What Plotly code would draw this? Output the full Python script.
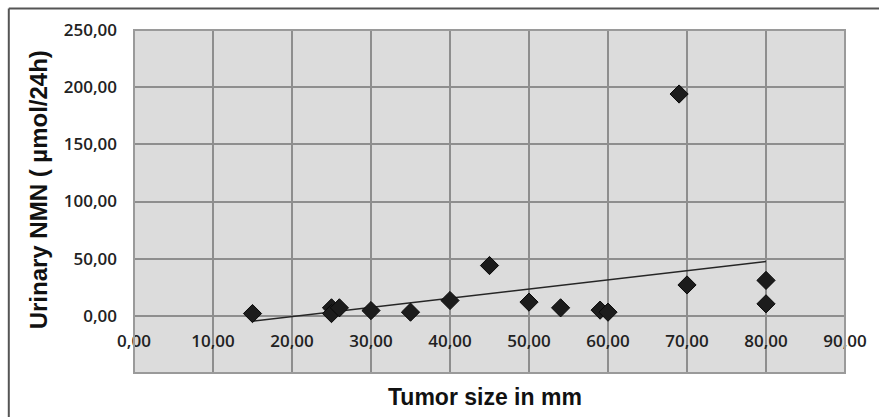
import plotly.graph_objects as go

# Data
tumor_size_mm = [15, 25, 25, 26, 30, 35, 40, 45, 50, 54, 59, 60, 69, 70, 80, 80]
urinary_nmn = [2.0, 7.0, 2.0, 7.0, 4.6, 3.2, 13.4, 44.0, 12.0, 7.0, 5.0, 3.2, 194.0, 27.0, 31.0, 10.5]
trend_x = [15, 80]
trend_y = [-4.7, 47.5]
x_ticks = [0, 10, 20, 30, 40, 50, 60, 70, 80, 90]
y_ticks = [0, 50, 100, 150, 200, 250]

# layout geometry (pixels)
W, H = 879, 417
L, R, T, B = 134, 846.7, 30, 372.7
pw, ph = R - L, B - T

def px_x(p):
    return (p - L) / pw

def px_y(p):
    return (B - p) / ph

grid = "#8e8e8e"
tick_font = dict(family="Open Sans", size=17, color="#222222", weight=600)

fig = go.Figure()
fig.add_trace(go.Scatter(
    x=trend_x, y=trend_y, mode="lines",
    line=dict(color="#262626", width=1.6), hoverinfo="skip", showlegend=False))
fig.add_trace(go.Scatter(
    x=tumor_size_mm, y=urinary_nmn, mode="markers",
    marker=dict(symbol="diamond", size=14, color="#1c1c1c",
                line=dict(color="#0a0a0a", width=1)),
    showlegend=False))

fig.update_layout(
    width=W, height=H,
    margin=dict(l=L, r=W - R, t=T, b=H - B, pad=0),
    paper_bgcolor="white",
    plot_bgcolor="#dcdcdc",
    separators=", ",
    showlegend=False,
    xaxis=dict(
        range=[0, 90], tickvals=x_ticks, tickformat=".2f",
        showgrid=True, gridcolor=grid, gridwidth=1.5,
        zeroline=False, showline=False, ticks="",
        anchor="free", position=1/6,
        tickfont=tick_font, ticklabelstandoff=13,
        fixedrange=True,
    ),
    yaxis=dict(
        range=[-50, 250], tickvals=y_ticks, tickformat=".2f",
        showgrid=True, gridcolor=grid, gridwidth=1.5,
        zeroline=False, showline=False, ticks="",
        tickfont=tick_font, ticklabelstandoff=16,
        fixedrange=True,
    ),
    shapes=[
        # plot-area border
        dict(type="rect", xref="paper", yref="paper", x0=0, x1=1, y0=0, y1=1,
             line=dict(color="#9a9a9a", width=2), layer="above"),
        # outer chart frame (left and top edges visible)
        dict(type="line", xref="paper", yref="paper",
             x0=px_x(8.5), x1=px_x(8.5), y0=px_y(8.5), y1=px_y(430),
             line=dict(color="#555555", width=2)),
        dict(type="line", xref="paper", yref="paper",
             x0=px_x(8.5), x1=px_x(900), y0=px_y(8.5), y1=px_y(8.5),
             line=dict(color="#555555", width=2)),
    ],
    annotations=[
        dict(text="<b>Tumor size in mm</b>", xref="paper", yref="paper",
             x=px_x(486), y=px_y(397), xanchor="center", yanchor="middle",
             showarrow=False,
             font=dict(family="Liberation Sans", size=23, color="#111111")),
        dict(text="<b>Urinary NMN ( µmol/24h)</b>", xref="paper", yref="paper",
             x=px_x(38), y=px_y(190), xanchor="center", yanchor="middle",
             textangle=-90, showarrow=False,
             font=dict(family="Liberation Sans", size=24, color="#111111")),
    ],
)

fig.write_html(
    "out.html",
    config={"displayModeBar": False},
    post_script="document.body.style.margin='0';document.body.style.padding='0';document.body.style.overflow='hidden';",
)
